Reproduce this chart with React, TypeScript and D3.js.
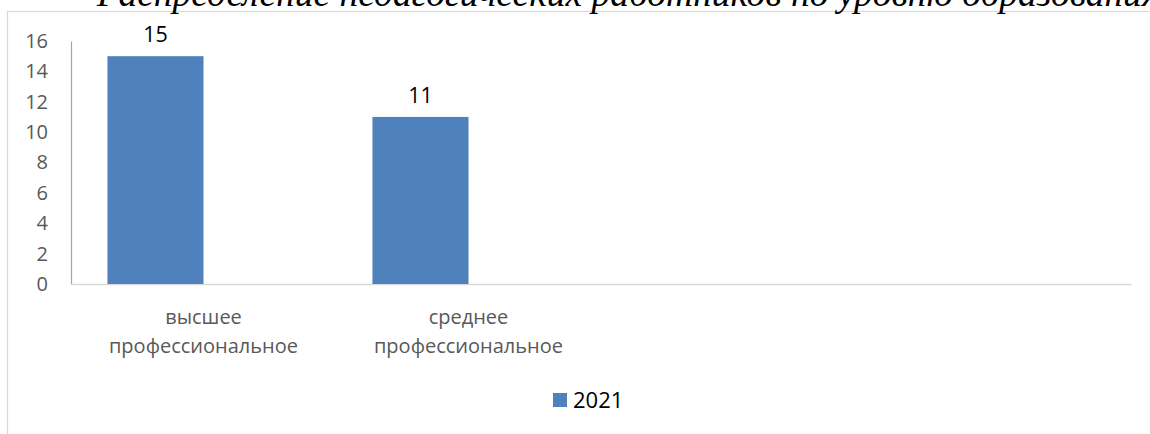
import React, { useEffect, useRef } from 'react';
import * as d3 from 'd3';

const title = 'Распределение педагогических работников по уровню образования';
const categories = ['высшее профессиональное', 'среднее профессиональное', '', ''];
const seriesNames = ['2021', ''];
const values2021 = [15, 11, null, null];
const valuesOther = [null, null, null, null];
const yTicks = [0, 2, 4, 6, 8, 10, 12, 14, 16];

const seriesValues = [values2021, valuesOther];

function drawChart(svgRoot: SVGSVGElement) {
    const width = 1150;
    const height = 434;
    const plot = { left: 71, right: 1131, top: 41, bottom: 284 };
    const font = 'Open Sans, Noto Sans, sans-serif';

    const svg = d3.select(svgRoot);
    svg.selectChildren().remove();
    svg.attr('viewBox', [0, 0, width, height] as any).attr('width', width).attr('height', height);

    const x = d3.scaleBand<number>()
        .domain(d3.range(categories.length))
        .range([plot.left, plot.right])
        .padding(0);
    const groupW = x.bandwidth() * 0.725;
    const xs = d3.scaleBand<number>()
        .domain(d3.range(seriesNames.length))
        .range([(x.bandwidth() - groupW) / 2, (x.bandwidth() + groupW) / 2]);
    const y = d3.scaleLinear().domain([0, 16]).range([plot.bottom, plot.top]);

    // chart frame (only top and left visible)
    svg.append('rect')
        .attr('x', 7.5).attr('y', 11.5)
        .attr('width', 1200).attr('height', 500)
        .attr('fill', 'none').attr('stroke', '#d9d9d9').attr('stroke-width', 1.2);

    // title, clipped at the top of the page
    svg.append('text')
        .attr('x', 97).attr('y', 6)
        .attr('font-family', 'Liberation Serif, Times New Roman, serif')
        .attr('font-style', 'italic')
        .attr('font-size', 37.5)
        .attr('fill', '#000')
        .text(title);

    // y axis
    const yAxis = svg.append('g')
        .attr('transform', `translate(${plot.left},0)`)
        .call(d3.axisLeft(y).tickValues(yTicks).tickSize(0).tickPadding(23));
    yAxis.select('.domain').attr('stroke', '#a6a6a6').attr('stroke-width', 1.2);
    yAxis.selectAll('text')
        .attr('font-family', font).attr('font-size', 20).attr('fill', '#595959');

    // x axis
    const xAxis = svg.append('g')
        .attr('transform', `translate(0,${plot.bottom})`)
        .call(d3.axisBottom(x).tickSize(0).tickFormat(() => ''));
    xAxis.select('.domain').attr('stroke', '#d9d9d9').attr('stroke-width', 1.5);
    xAxis.selectAll('.tick text').remove();

    categories.forEach((c, i) => {
        if (!c) return;
        const words = c.split(' ');
        const t = svg.append('text')
            .attr('x', x(i)! + x.bandwidth() / 2)
            .attr('y', 324)
            .attr('text-anchor', 'middle')
            .attr('font-family', font).attr('font-size', 20).attr('fill', '#595959');
        words.forEach((w, k) => {
            t.append('tspan')
                .attr('x', x(i)! + x.bandwidth() / 2)
                .attr('dy', k === 0 ? 0 : 29)
                .text(w);
        });
    });

    // bars
    seriesValues.forEach((vals, s) => {
        vals.forEach((v, i) => {
            if (v == null) return;
            const bx = x(i)! + xs(s)!;
            svg.append('rect')
                .attr('x', bx).attr('y', y(v))
                .attr('width', xs.bandwidth())
                .attr('height', y(0) - y(v))
                .attr('fill', '#4f81bd');
            svg.append('text')
                .attr('x', bx + xs.bandwidth() / 2)
                .attr('y', y(v) - 14)
                .attr('text-anchor', 'middle')
                .attr('font-family', font).attr('font-size', 21.5).attr('fill', '#000')
                .text(v);
        });
    });

    // legend
    const lg = svg.append('g').attr('transform', 'translate(553,393)');
    lg.append('rect').attr('width', 14).attr('height', 14).attr('fill', '#4f81bd');
    lg.append('text')
        .attr('x', 20).attr('y', 15)
        .attr('font-family', font).attr('font-size', 22).attr('fill', '#000')
        .text(seriesNames[0]);
}

export default function App() {
    const svgRef = useRef<SVGSVGElement>(null);
    useEffect(() => {
        svgRef.current && drawChart(svgRef.current);
    }, []);
    return (
        <svg ref={svgRef} style={{ position: 'absolute', left: 0, top: 0, background: '#fff' }} />
    );
}
